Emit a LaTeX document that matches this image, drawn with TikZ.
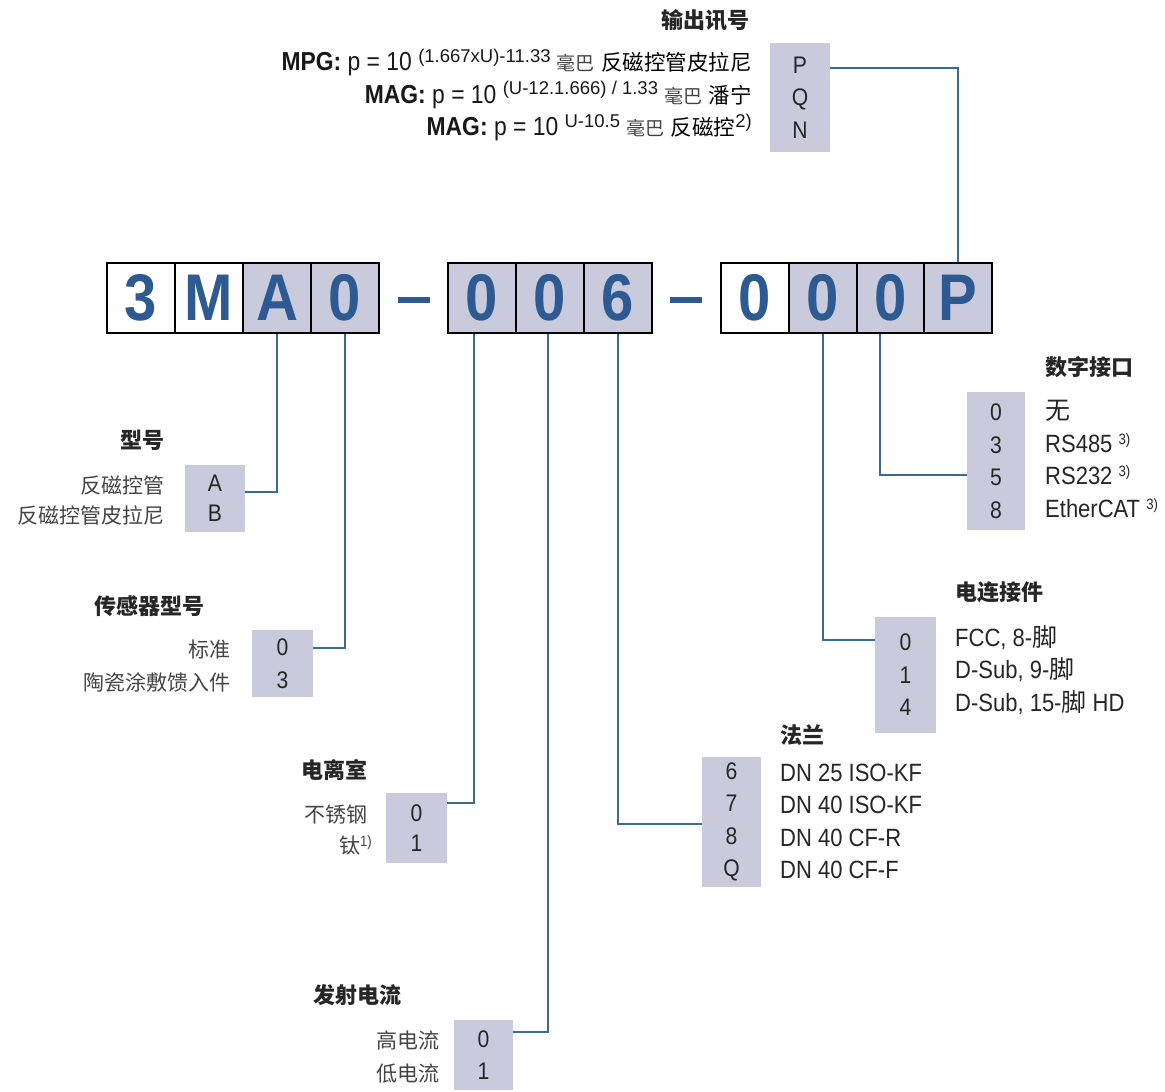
\documentclass[tikz,border=0pt]{standalone}
\usepackage{fontspec}
\setmainfont{Liberation Sans}[FakeStretch=0.88]
\newfontfamily\supfont{Liberation Sans}
\newfontfamily\cjk{Noto Sans CJK SC}
\definecolor{boxfill}{HTML}{C9CBDC}
\definecolor{codeblue}{HTML}{2D5A92}
\definecolor{linec}{HTML}{3E6A8E}
\definecolor{txt}{HTML}{262626}
\definecolor{cjkt}{HTML}{444444}
\newcommand\sprs[1]{\raisebox{0.6ex}{\fontsize{15}{15}\selectfont #1}}
\newcommand\fsprs[1]{\raisebox{0.62ex}{\supfont\fontsize{18.5}{18.5}\selectfont #1}}
\newcommand\mbar{{\cjk\fontsize{19}{19}\selectfont\color{cjkt}毫巴}}
\newcommand\gname[1]{{\cjk\fontsize{21.5}{21.5}\selectfont\color{black}#1}}
\begin{document}
\begin{tikzpicture}[x=1pt,y=-1pt,
  code/.style={draw=black, line width=2pt, minimum width=68pt, minimum height=70pt, inner sep=0pt,
    font=\fontsize{66}{66}\selectfont\bfseries, text=codeblue},
  wcode/.style={code, fill=white},
  gcode/.style={code, fill=boxfill},
  dashbar/.style={fill=codeblue, minimum width=32pt, minimum height=6pt, inner sep=0pt},
  optbox/.style={fill=boxfill, inner sep=0pt, align=center, text=txt,
    font=\fontsize{24}{32.5}\selectfont},
  conn/.style={draw=linec, line width=1.5pt},
  head/.style={font=\cjk\bfseries\fontsize{22}{24}\selectfont, text=black!85, inner sep=0pt},
  cjkopt/.style={font=\cjk\fontsize{21}{33}\selectfont, text=cjkt, inner sep=0pt},
  latopt/.style={font=\fontsize{25}{32.5}\selectfont, text=txt, inner sep=0pt, align=left}
]
\useasboundingbox (0,0) rectangle (1165,1092);
\fill[white] (0,0) rectangle (1165,1092);

% code boxes
\node[wcode] (c1) at (141,298) {3};
\node[wcode] (c2) at (209,298) {M};
\node[gcode] (c3) at (277,298) {A};
\node[gcode] (c4) at (345,298) {0};
\node[dashbar] (d1) at (414,300) {};
\node[gcode] (c5) at (482,298) {0};
\node[gcode] (c6) at (550,298) {0};
\node[gcode] (c7) at (618,298) {6};
\node[dashbar] (d2) at (686,300) {};
\node[wcode] (c8) at (755,298) {0};
\node[gcode] (c9) at (823,298) {0};
\node[gcode] (c10) at (891,298) {0};
\node[gcode] (c11) at (958,298) {P};

% option boxes
\node[optbox, minimum width=60pt, minimum height=109pt] (pqn) at (800,97.5) {P\\Q\\N};
\node[optbox, minimum width=60pt, minimum height=67pt, font=\fontsize{24}{30}\selectfont] (ab) at (215,498.5) {A\\B};
\node[optbox, minimum width=61pt, minimum height=67pt] (st) at (282.5,663.5) {0\\3};
\node[optbox, minimum width=61pt, minimum height=70pt, font=\fontsize{24}{30}\selectfont] (ion) at (416.5,828) {0\\1};
\node[optbox, minimum width=59pt, minimum height=70pt] (em) at (483.5,1055) {0\\1};
\node[optbox, minimum width=59pt, minimum height=130pt] (fl) at (731.5,822) {6\\7\\8\\Q};
\node[optbox, minimum width=61pt, minimum height=116pt] (ec) at (905.5,675) {0\\1\\4};
\node[optbox, minimum width=58pt, minimum height=138pt] (di) at (996,461) {0\\3\\5\\8};

% connectors
\draw[conn] (c11.north) |- ([yshift=29.5pt]pqn.east);
\draw[conn] (c3.south) |- ([yshift=6.5pt]ab.east);
\draw[conn] (c4.south) |- ([yshift=15.5pt]st.east);
\draw[conn] ([xshift=-8pt]c5.south) |- ([yshift=25pt]ion.east);
\draw[conn] ([xshift=-2pt]c6.south) |- ([yshift=23pt]em.east);
\draw[conn] (c7.south) |- ([yshift=-2pt]fl.west);
\draw[conn] (c9.south) |- ([yshift=35pt]ec.west);
\draw[conn] ([xshift=-11pt]c10.south) |- ([yshift=-14pt]di.west);

% output signal
\node[head, anchor=east] (h-out) at (750,20) {输出讯号};
\node[anchor=east, align=right, inner sep=0pt, text=black!90, font=\fontsize{26}{32.5}\selectfont] (f-out) at (752,95)
 {\textbf{MPG:} p = 10 \fsprs{(1.667xU)-11.33} \mbar{} \gname{反磁控管皮拉尼}\\
  \textbf{MAG:} p = 10 \fsprs{(U-12.1.666) / 1.33} \mbar{} \gname{潘宁}\\
  \textbf{MAG:} p = 10 \fsprs{U-10.5} \mbar{} \gname{反磁控}\fsprs{2)}};

% model
\node[head, anchor=east] (h-model) at (165,440) {型号};
\node[cjkopt, anchor=east, align=right, font=\cjk\fontsize{21}{30}\selectfont] (o-model) at (165,501) {反磁控管\\反磁控管皮拉尼};

% sensor type
\node[head, anchor=east] (h-sensor) at (205,606) {传感器型号};
\node[cjkopt, anchor=east, align=right] (o-sensor) at (231,666) {标准\\陶瓷涂敷馈入件};

% ion chamber
\node[head, anchor=east] (h-ion) at (368,770) {电离室};
\node[cjkopt, anchor=east, align=right, font=\cjk\fontsize{21}{31}\selectfont] (o-ion) at (372,830) {不锈钢\hspace*{4pt}\\钛\sprs{\rmfamily 1)}};

% emission
\node[head, anchor=west] (h-em) at (313,995) {发射电流};
\node[cjkopt, anchor=east, align=right] (o-em) at (440,1057) {高电流\\低电流};

% flange
\node[head, anchor=west] (h-fl) at (780,735) {法兰};
\node[latopt, anchor=west] (o-fl) at (780,821.5) {DN 25 ISO-KF\\DN 40 ISO-KF\\DN 40 CF-R\\DN 40 CF-F};

% electrical connector
\node[head, anchor=west] (h-ec) at (955,592) {电连接件};
\node[latopt, anchor=west] (o-ec) at (955,670) {FCC, 8-{\cjk 脚}\\D-Sub, 9-{\cjk 脚}\\D-Sub, 15-{\cjk 脚} HD};

% digital interface
\node[head, anchor=west] (h-di) at (1045,367) {数字接口};
\node[latopt, anchor=west] (o-di) at (1045,459) {{\cjk 无}\\RS485 \sprs{3)}\\RS232 \sprs{3)}\\EtherCAT \sprs{3)}};
\end{tikzpicture}
\end{document}
